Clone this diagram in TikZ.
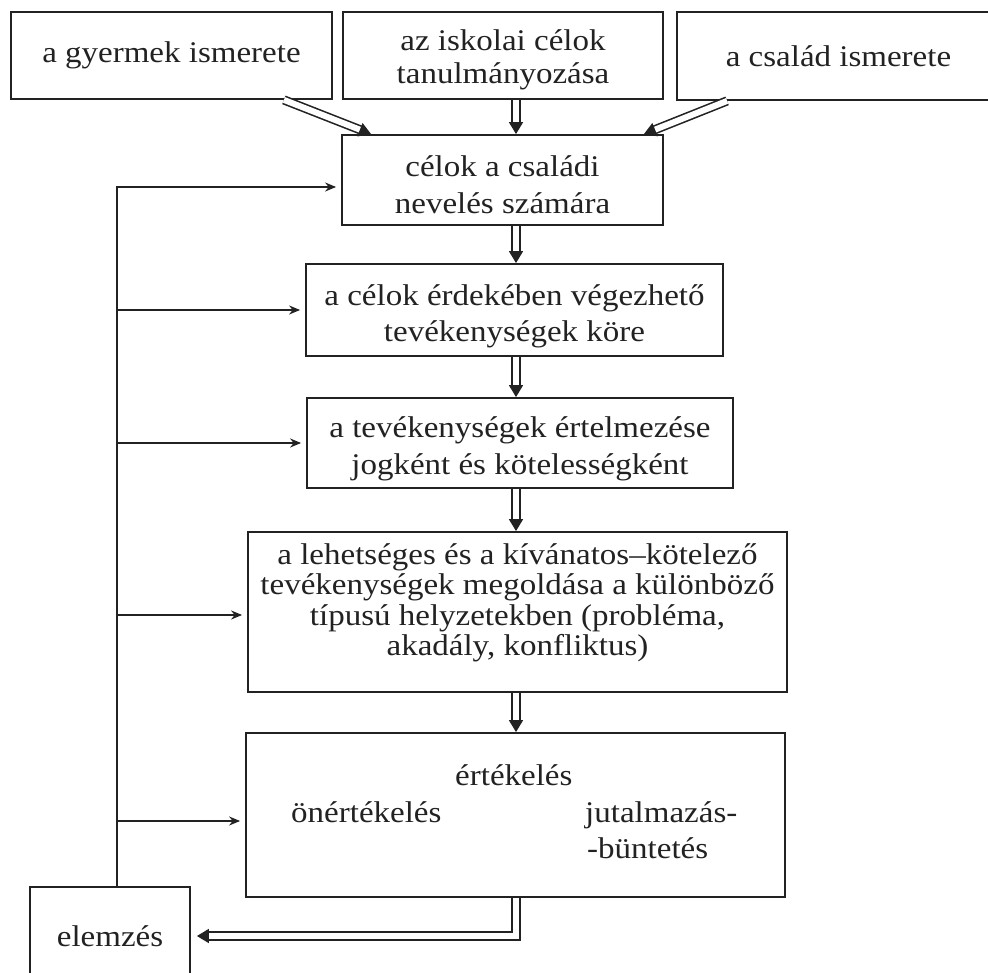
\documentclass[tikz,border=0pt]{standalone}
\usepackage{fontspec}
\setmainfont{Liberation Serif}[FakeStretch=1.1]
\usetikzlibrary{arrows.meta,calc}
\definecolor{ink}{HTML}{222222}
\begin{document}
\begin{tikzpicture}[x=1pt,y=-1pt,
  box/.style={draw=ink, line width=1.8pt, align=center, inner sep=0pt, text=ink},
  fs/.style={font=\fontsize{30}{#1}\selectfont},
  boxtext/.style={text=ink, align=center, inner sep=0pt},
  lbl/.style={text=ink, inner sep=0pt, font=\fontsize{30}{34}\selectfont, anchor=base west},
  sarr/.style={draw=ink, line width=1.5pt, shorten >=5pt, -{Stealth[length=11pt,width=9pt]}},
  dbl/.style={draw=ink, line width=1.6pt, double=white, double distance=6pt,
    -{Triangle[length=12pt,width=14pt]}}]

\useasboundingbox (0,0) rectangle (988,973);
\clip (0,0) rectangle (988,973);
\fill[white] (0,0) rectangle (988,973);

% reference columns
\coordinate (spine) at (516,0);
\coordinate (loop) at (117,0);

% source boxes
\node[box, fs=33, minimum width=321pt, minimum height=87pt] (b1) at (171.5,55.5) {a gyermek ismerete};
\node[box, minimum width=320pt, minimum height=87pt,
  label={[boxtext, fs=33, yshift=-4pt]center:{az iskolai célok\\tanulmányozása}}] (b2) at (503,55.5) {};
\node[box, fs=33, minimum width=323pt, minimum height=88pt] (b3) at (838.5,56) {a család ismerete};

% main chain
\node[box, minimum width=321pt, minimum height=90pt,
  label={[boxtext, fs=37, yshift=-5pt]center:{célok a családi\\nevelés számára}}] (b4) at (502.5,180) {};
\node[box, minimum width=417pt, minimum height=92pt,
  label={[boxtext, fs=36, yshift=-6pt]center:{a célok érdekében végezhető\\tevékenységek köre}}] (b5) at (514.5,310) {};
\node[box, minimum width=426pt, minimum height=90pt,
  label={[boxtext, fs=37, yshift=-6pt]center:{a tevékenységek értelmezése\\jogként és kötelességként}}] (b6) at (520,443) {};
\node[box, minimum width=539pt, minimum height=160pt,
  label={[boxtext, fs=30.5, yshift=9pt]center:{a lehetséges és a kívánatos–kötelező\\tevékenységek megoldása a különböző\\típusú helyzetekben (probléma,\\akadály, konfliktus)}}] (b7) at (517.5,612) {};
\node[box, minimum width=539pt, minimum height=164pt] (b8) at (515.5,815) {};
\node[lbl] (t1) at (455,785) {értékelés};
\node[lbl] (t2) at (291,822) {önértékelés};
\node[lbl] (t3) at (585,822) {jutalmazás-};
\node[lbl] (t4) at (587,858) {-büntetés};

\node[box, fs=34, minimum width=160pt, minimum height=98pt] (elem) at (110,936) {elemzés};

% double arrows
\draw[dbl] ($(b1.south east)+(-49,0)$) -- ($(b4.north west)+(30,0)$);
\draw[dbl] (b2.south -| spine) -- (b4.north -| spine);
\draw[dbl] ($(b3.south west)+(51,0)$) -- ($(b4.north east)+(-20,0)$);
\draw[dbl] (b4.south -| spine) -- (b5.north -| spine);
\draw[dbl] (b5.south -| spine) -- (b6.north -| spine);
\draw[dbl] (b6.south -| spine) -- (b7.north -| spine);
\draw[dbl] (b7.south -| spine) -- (b8.north -| spine);
\draw[dbl, shorten >=6pt] (b8.south -| spine) |- (elem.east);

% feedback loop
\coordinate (in4) at ($(b4.west)+(0,7)$);
\coordinate (in7) at ($(b7.west)+(0,3)$);
\coordinate (in8) at ($(b8.west)+(0,6)$);
\draw[sarr] (elem.north -| loop) |- (in4);
\draw[sarr] (b5.west -| loop) -- (b5.west);
\draw[sarr] (b6.west -| loop) -- (b6.west);
\draw[sarr] (in7 -| loop) -- (in7);
\draw[sarr] (in8 -| loop) -- (in8);
\end{tikzpicture}
\end{document}
